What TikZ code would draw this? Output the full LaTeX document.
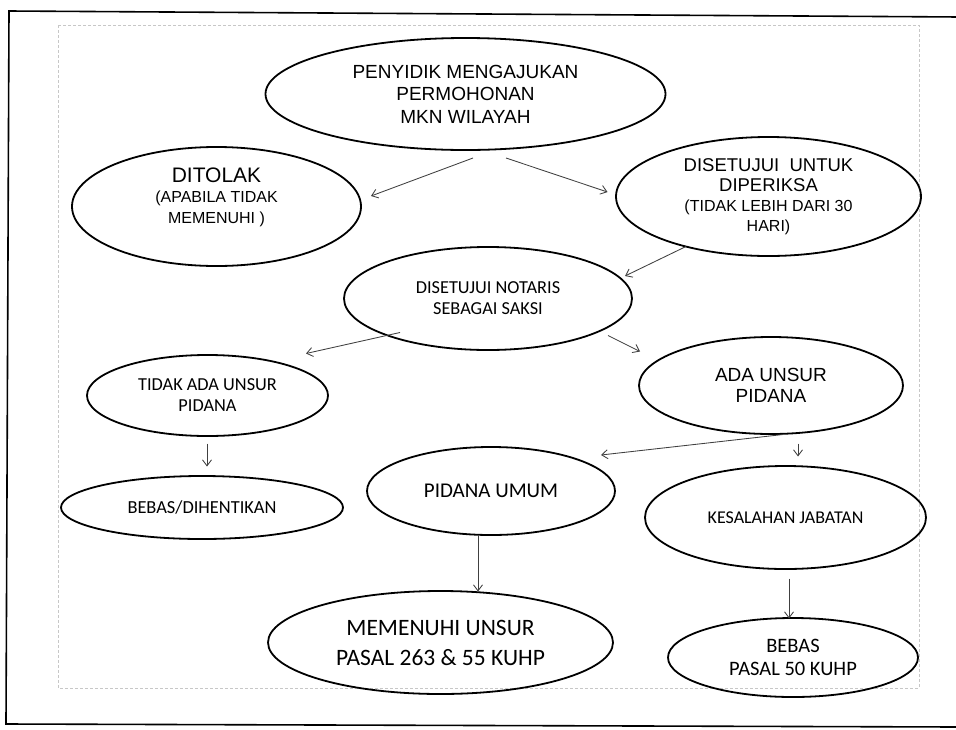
\documentclass[tikz,border=0pt]{standalone}
\usepackage{fontspec}
\setmainfont{Liberation Sans}
\newfontfamily\arialf{Liberation Sans}
\newfontfamily\calibf{Carlito}
\usetikzlibrary{shapes.geometric,arrows.meta,calc}
\begin{document}
\begin{tikzpicture}[x=1pt,y=-1pt,
  ell/.style={ellipse, draw=black, line width=1.8pt, inner sep=0pt, outer sep=0pt, align=center, text=black},
  arr/.style={draw=black!75, line width=0.85pt, -{Straight Barb[length=6pt,width=9pt]}},
  frame/.style={draw=black, line width=1.6pt},
  innerframe/.style={draw=black!22, line width=0.5pt, dash pattern=on 3pt off 2pt},
  ]
\useasboundingbox (0,0) rectangle (956,729);
\fill[white] (0,0) rectangle (956,729);

% frames
\draw[frame] (960,17) -- (9,11) -- (6,724) -- (960,727);
\draw[innerframe] (58,25) rectangle (919,688);

% nodes
\node[ell, minimum width=400pt, minimum height=112pt,
      font=\arialf\fontsize{19}{22.5}\selectfont] (penyidik) at (465.5,94)
      {PENYIDIK MENGAJUKAN\\PERMOHONAN\\MKN WILAYAH};

\node[ell, minimum width=289pt, minimum height=119pt] (ditolak) at (216.5,206.5) {};
\node[inner sep=0pt, align=center, text=black,
      font=\arialf\fontsize{16}{20.5}\selectfont] (ditolaktext) at (216.5,197)
      {{\fontsize{21}{21}\selectfont DITOLAK}\\(APABILA TIDAK\\MEMENUHI )};

\node[ell, minimum width=305pt, minimum height=119pt,
      font=\arialf\fontsize{16}{20}\selectfont] (disetujui) at (768.5,196.5)
      {{\fontsize{18.5}{18.5}\selectfont DISETUJUI\ \ UNTUK}\\{\fontsize{18.5}{18.5}\selectfont DIPERIKSA}\\(TIDAK LEBIH DARI 30\\HARI)};

\node[ell, minimum width=288pt, minimum height=103pt,
      font=\calibf\fontsize{18.3}{21}\selectfont] (notaris) at (488,298.5)
      {DISETUJUI NOTARIS\\SEBAGAI SAKSI};

\node[ell, minimum width=241pt, minimum height=81pt,
      font=\calibf\fontsize{18.3}{21}\selectfont] (tidak) at (207.5,395.5)
      {TIDAK ADA UNSUR\\PIDANA};

\node[ell, minimum width=264pt, minimum height=97pt,
      font=\arialf\fontsize{19}{21}\selectfont] (ada) at (771,385.5)
      {ADA UNSUR\\PIDANA};

\node[ell, minimum width=282pt, minimum height=63pt,
      font=\calibf\fontsize{18.4}{21}\selectfont] (bebasdih) at (202,507.5)
      {BEBAS/DIHENTIKAN};

\node[ell, minimum width=248pt, minimum height=88pt,
      font=\calibf\fontsize{21}{24}\selectfont] (pidana) at (491,491)
      {PIDANA UMUM};

\node[ell, minimum width=281pt, minimum height=103pt,
      font=\calibf\fontsize{18}{21}\selectfont] (kesalahan) at (785.5,517.5)
      {KESALAHAN JABATAN};

\node[ell, minimum width=345pt, minimum height=103pt,
      font=\calibf\fontsize{23.5}{30}\selectfont] (memenuhi) at (440.5,642.5)
      {MEMENUHI UNSUR\\PASAL 263 \& 55 KUHP};

\node[ell, minimum width=250pt, minimum height=79pt,
      font=\calibf\fontsize{20.5}{23}\selectfont] (bebaspasal) at (793,657.5)
      {BEBAS\\PASAL 50 KUHP};

% connectors
\draw[arr] ($(penyidik.south)+(7.5,8)$) -- ($(ditolak.east)+(10,-10.5)$);
\draw[arr] ($(penyidik.south)+(40.5,8)$) -- ($(disetujui.west)+(-8.5,-4.5)$);
\draw[arr] ($(disetujui.south)+(-82.5,-9.5)$) -- ($(notaris.east)+(-7,-22.5)$);
\draw[arr] ($(notaris.south)+(-88,-17.5)$) -- ($(tidak.north)+(98.5,-1.5)$);
\draw[arr] ($(notaris.south)+(120,-14.5)$) -- ($(ada.north)+(-131,14.5)$);
\draw[arr] ($(ada.south)+(12,0.5)$) -- ($(pidana.north)+(110,8)$);
\draw[arr] ($(ada.south)+(27,9.5)$) -- ($(kesalahan.north)+(12.5,-9.5)$);
\draw[arr] ($(tidak.south)+(-0.5,7.5)$) -- ($(bebasdih.north)+(5,-9.5)$);
\draw[arr] ($(pidana.south)+(-13,0)$) -- ($(memenuhi.north)+(37.5,0.5)$);
\draw[arr] ($(kesalahan.south)+(3.5,9.5)$) -- ($(bebaspasal.north)+(-4,0.5)$);
\end{tikzpicture}
\end{document}
